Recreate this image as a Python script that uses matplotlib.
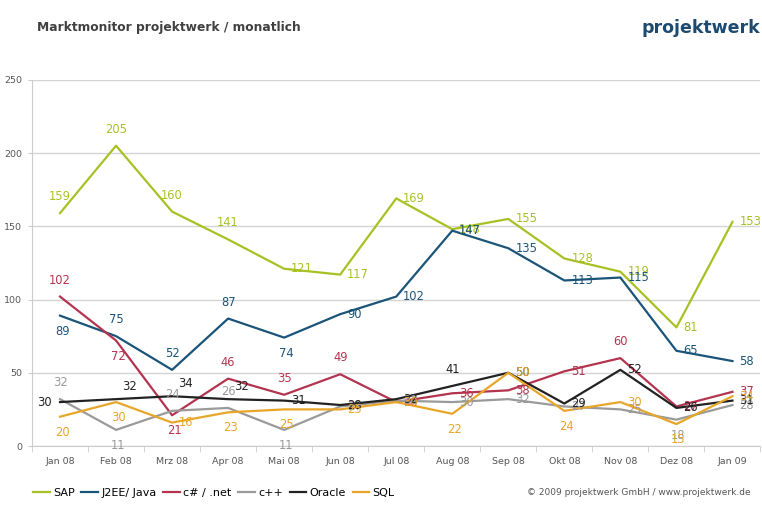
import matplotlib
matplotlib.use("Agg")
import matplotlib.pyplot as plt
import numpy as np

# -----------------
# data
months = ["Jan 08", "Feb 08", "Mrz 08", "Apr 08", "Mai 08", "Jun 08", "Jul 08",
          "Aug 08", "Sep 08", "Okt 08", "Nov 08", "Dez 08", "Jan 09"]
sap = [159, 205, 160, 141, 121, 117, 169, 148, 155, 128, 119, 81, 153]
j2ee = [89, 75, 52, 87, 74, 90, 102, 147, 135, 113, 115, 65, 58]
csharp = [102, 72, 21, 46, 35, 49, 30, 36, 38, 51, 60, 27, 37]
cpp = [32, 11, 24, 26, 11, 27, 31, 30, 32, 27, 25, 18, 28]
oracle = [30, 32, 34, 32, 31, 28, 32, 41, 50, 29, 52, 26, 31]
sql = [20, 30, 16, 23, 25, 25, 30, 22, 50, 24, 30, 15, 34]

series = [
    ("SAP", sap, "#a9c024"),
    ("J2EE/ Java", j2ee, "#1b5479"),
    ("c# / .net", csharp, "#b3344f"),
    ("c++", cpp, "#9a9a9a"),
    ("Oracle", oracle, "#222222"),
    ("SQL", sql, "#e8a628"),
]

# label placement per point: a=above, b=below, r=right, l=left, q=above right
label_pos = {
    "SAP":        "aaaarrrrrrrrr",
    "J2EE/ Java": "baaabrrrrrrrr",
    "c# / .net":  "abbaaarrrrarr",
    "c++":        "abaabrrrrrrbr",
    "Oracle":     "lqqqrrrarrrrr",
    "SQL":        "bbrbbrrbrbrbr",
}
offs = {"a": (0, 10, "center", "bottom"), "b": (2, -9, "center", "top"),
        "r": (7, 0, "left", "center"), "l": (-8, 0, "right", "center"),
        "q": (6, 6, "left", "bottom")}

# -----------------
# figure
fig = plt.figure(figsize=(7.62, 5.08), dpi=100)
ax = fig.add_axes([0.042, 0.122, 0.956, 0.721])

x = np.arange(len(months))
for name, vals, col in series:
    ax.plot(x, vals, color=col, lw=1.6, label=name, zorder=3)
    for i, v in enumerate(vals):
        dx, dy, ha, va = offs[label_pos[name][i]]
        ax.annotate(str(v), (i, v), xytext=(dx, dy), textcoords="offset pixels",
                    ha=ha, va=va, color=col, fontsize=8.3, zorder=4)

ax.set_xlim(-0.5, len(months) - 0.5)
ax.set_ylim(0, 250)
ax.set_yticks(range(0, 251, 50))
ax.set_xticks(x)
ax.set_xticklabels(months)
ax.set_xticks(np.arange(-0.5, len(months), 1), minor=True)
ax.tick_params(axis="x", which="major", length=0, pad=8, labelsize=6.8, labelcolor="#555555")
ax.tick_params(axis="x", which="minor", length=4, color="#cccccc")
ax.tick_params(axis="y", length=3, color="#cccccc", labelsize=6.8, labelcolor="#555555", pad=4)
ax.yaxis.grid(True, color="#d4d4d4", lw=1)
ax.set_axisbelow(True)
for s in ["top", "right"]:
    ax.spines[s].set_visible(False)
ax.spines["left"].set_color("#cccccc")
ax.spines["bottom"].set_color("#cccccc")

fig.text(0.049, 0.945, "Marktmonitor projektwerk / monatlich", fontsize=8.8,
         fontweight="bold", color="#404040", va="center")
fig.text(0.998, 0.945, "projektwerk", fontsize=12.5, fontweight="bold",
         color="#1d4a70", ha="right", va="center")

fig.legend(loc="center left", bbox_to_anchor=(0.03, 0.03), ncol=6, frameon=False,
           handlelength=1.5, handletextpad=0.3, columnspacing=0.6,
           prop={"family": ["Liberation Sans Narrow", "DejaVu Sans"], "size": 8})
fig.text(0.985, 0.03, "\u00a9 2009 projektwerk GmbH / www.projektwerk.de",
         fontsize=6.5, color="#555555", ha="right", va="center")

plt.savefig("out.png", dpi=100)
